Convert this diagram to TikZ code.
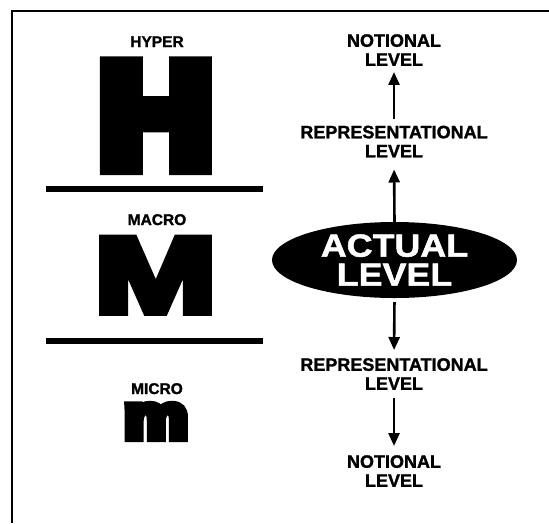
\documentclass[tikz,border=0pt]{standalone}
\usepackage{fontspec}
\setmainfont{Liberation Sans}[BoldFeatures={FakeBold=1.5}]
\newfontfamily\heavyfont{Liberation Sans}[BoldFeatures={FakeBold=13}]
\newfontfamily\mfont{Liberation Sans}[BoldFeatures={FakeBold=7}]
\newfontfamily\widefont{Liberation Sans}[FakeStretch=1.12,BoldFeatures={FakeBold=1.5}]
\usetikzlibrary{shapes.geometric,arrows.meta}
\newcommand\lowmiter{\special{pdf:literal direct 1.6 M}}
\begin{document}
\begin{tikzpicture}[x=1pt,y=-1pt,
  lbl/.style={font=\bfseries\fontsize{18}{19}\selectfont, align=center, inner sep=0pt},
  tag/.style={font=\bfseries\fontsize{15.5}{16}\selectfont, inner sep=0pt, anchor=base},
  big/.style={inner sep=0pt, anchor=base},
  arr/.style={line width=2.6pt, -{Triangle[length=13pt,width=11pt]}},
  rule/.style={line width=6pt},
  actual/.style={ellipse, fill=black, text=white, minimum width=245pt, minimum height=76pt,
    inner sep=0pt, align=center, font=\widefont\bfseries\fontsize{32}{29}\selectfont}
]
\useasboundingbox (0,0) rectangle (549,523);
% frame
\draw[line width=2.5pt] (12.2,523) -- (12.2,11) -- (549,11);
% left column
\node[tag] (hyper) at (157,47) {HYPER};
\node[big] (H) at (156,165.6) {\lowmiter\scalebox{1.075}[1]{\heavyfont\bfseries\fontsize{145}{145}\selectfont H}};
\draw[rule] (46,189) -- (263,189);
\node[tag] (macro) at (157,225) {MACRO};
\node[big] (M) at (155.5,312) {\lowmiter\scalebox{1.37}[1]{\mfont\bfseries\fontsize{107}{107}\selectfont M}};
\draw[rule] (46,340.5) -- (263,340.5);
\node[tag] (micro) at (157,394) {MICRO};
\node[big] (m) at (156,438) {\lowmiter\scalebox{1.16}[1]{\heavyfont\bfseries\fontsize{61.6}{61.6}\selectfont m}};
% right column
\node[lbl] (not1) at (394,50) {NOTIONAL\\LEVEL};
\node[lbl] (rep1) at (394,141.5) {REPRESENTATIONAL\\LEVEL};
\node[actual] (act) at (394.5,260) {ACTUAL\\LEVEL};
\node[lbl] (rep2) at (394,374) {REPRESENTATIONAL\\LEVEL};
\node[lbl] (not2) at (394,471) {NOTIONAL\\LEVEL};
\draw[arr, shorten <=7pt, shorten >=6pt] (rep1.north) -- (not1.south);
\draw[arr, shorten >=12pt] (act.north) -- (rep1.south);
\draw[arr, shorten <=4pt, shorten >=8pt] (act.south) -- (rep2.north);
\draw[arr, shorten <=8pt, shorten >=9pt] (rep2.south) -- (not2.north);
\end{tikzpicture}
\end{document}
